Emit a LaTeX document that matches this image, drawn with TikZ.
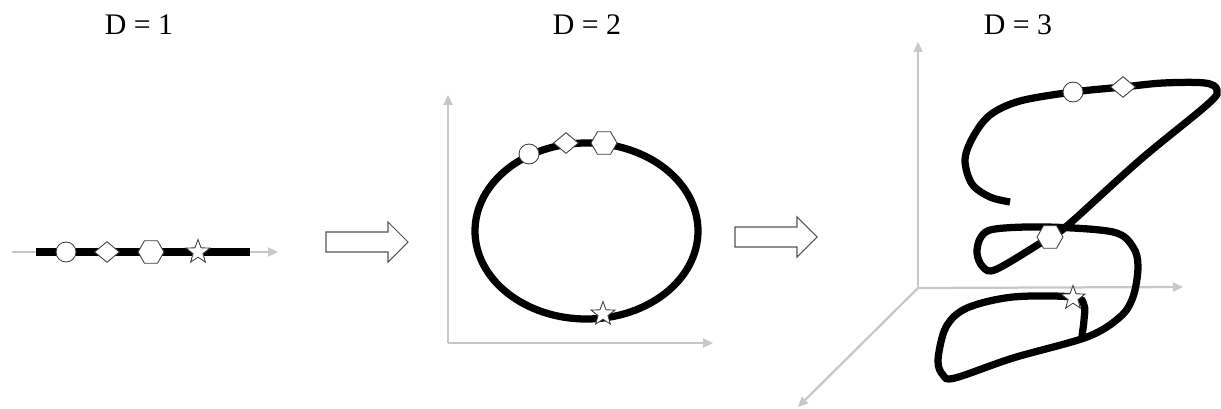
\documentclass[tikz,border=0pt]{standalone}
\usepackage{fontspec}
\setmainfont{Liberation Serif}
\usetikzlibrary{arrows.meta,shapes.geometric}
\definecolor{axisgray}{HTML}{C8C8C8}
\definecolor{markgray}{HTML}{404040}
\definecolor{arrowgray}{HTML}{555555}
\begin{document}
\begin{tikzpicture}[x=0.02cm,y=-0.02cm,
 axis/.style={draw=axisgray,line width=0.045cm,-{Triangle[length=0.2cm,width=0.18cm]}},
 curve/.style={line width=0.145cm,black},
 mk/.style={draw=markgray,fill=white,line width=0.5pt,inner sep=0pt},
 circ/.style={mk,circle,minimum size=0.4cm},
 diam/.style={mk,diamond,minimum width=0.5cm,minimum height=0.42cm},
 hexa/.style={mk,regular polygon,regular polygon sides=6,minimum size=0.52cm},
 starm/.style={mk,star,star points=5,star point ratio=2.4,minimum size=0.5cm},
 block/.style={draw=arrowgray,fill=white,line width=0.6pt},
 lbl/.style={font=\fontsize{17}{20}\selectfont,anchor=base}
]
\fill[white] (0,0) rectangle (1221,409);
\useasboundingbox (0,0) rectangle (1221,409);

% labels
\node[lbl] (t1) at (139,34) {D = 1};
\node[lbl] (t2) at (587,34) {D = 2};
\node[lbl] (t3) at (1018,34) {D = 3};

% panel 1
\coordinate (a1s) at (12,252);
\coordinate (a1e) at (278,252);
\draw[axis] (a1s) -- (a1e);
\coordinate (l1s) at (36,252);
\coordinate (l1e) at (250,252);
\draw[curve] (l1s) -- (l1e);
\node[circ] (c1) at (66,252) {};
\node[diam] (d1) at (107,252) {};
\node[hexa] (h1) at (151,252) {};
\node[starm] (s1) at (198,252) {};

% block arrows
\draw[block] (326,232) -- (388,232) -- (388,222) -- (408,242) -- (388,262) -- (388,252) -- (326,252) -- cycle;
\draw[block] (735,227) -- (797,227) -- (797,217) -- (817,237) -- (797,257) -- (797,247) -- (735,247) -- cycle;

% panel 2
\coordinate (o2) at (448,343);
\coordinate (y2) at (448,95);
\coordinate (x2) at (713,343);
\draw[axis] (o2) -- (y2);
\draw[axis] (o2) -- (x2);
\draw[curve] (586.5,231) ellipse [x radius=111.5, y radius=88];
\node[circ] (c2) at (529,154) {};
\node[diam] (d2) at (566,143) {};
\node[hexa] (h2) at (604,143) {};
\node[starm] (s2) at (603,314) {};

% panel 3
\coordinate (o3) at (918,288);
\coordinate (y3) at (918,42);
\coordinate (x3) at (1183,287);
\coordinate (z3) at (798,407);
\draw[axis] (o3) -- (y3);
\draw[axis] (o3) -- (x3);
\draw[axis] (o3) -- (z3);
\draw[curve] plot[smooth,tension=0.55] coordinates {
 (1010,202) (990,197) (972,184) (965,160) (973,137) (990,115) (1020,101)
 (1073,92) (1123,87) (1163,83) (1205,83) (1217,90) (1208,104)
 (1140,160) (1068,225) (1050,237) (997,269) (983,267) (977,253) (981,237)
 (995,229) (1047,227) (1113,232) (1133,247) (1138,267) (1133,297)
 (1120,317) (1087,337) (1013,358) (955,378) (943,375) (938,360) (946,327)
 (967,308) (1013,297) (1073,297) (1084,305) (1084,320) (1082,336)};
\node[circ] (c3) at (1073,92) {};
\node[diam] (d3) at (1123,87) {};
\node[hexa] (h3) at (1050,237) {};
\node[starm] (s3) at (1073,298) {};
\end{tikzpicture}
\end{document}
